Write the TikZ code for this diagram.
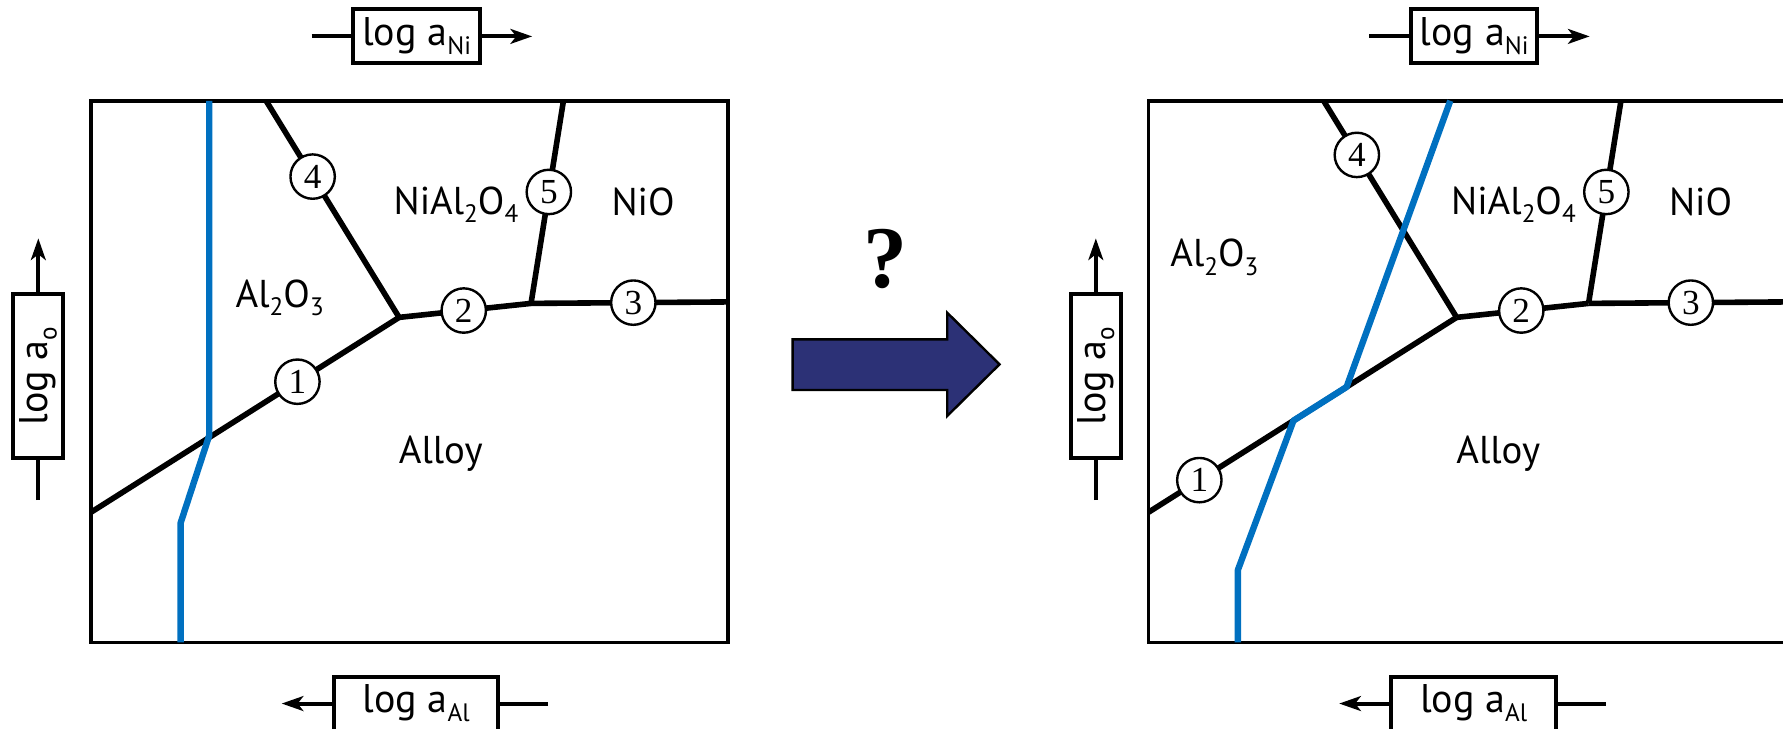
\documentclass[tikz,border=0pt]{standalone}
\usepackage{fontspec}
\setmainfont{PT Sans}
\newfontfamily\numfont{Liberation Serif}
\usetikzlibrary{arrows.meta,positioning}

\definecolor{pathblue}{RGB}{0,112,192}
\definecolor{arrownavy}{RGB}{44,49,118}

% small lowered index, as in the figure
\newcommand{\chemsub}[1]{\raisebox{-0.45ex}{\fontsize{6.3}{7}\selectfont #1}}

\tikzset{
  frame/.style={draw, line width=0.9pt},
  phase/.style={line width=1.4pt, line join=round},
  kinetic/.style={draw=pathblue, line width=1.6pt, line join=round},
  num/.style={circle, draw, fill=white, line width=0.6pt, inner sep=0pt,
    minimum size=0.39cm, font=\numfont\fontsize{8.8}{9}\selectfont},
  axbox/.style={draw, line width=1pt, inner sep=0pt, minimum height=0.475cm,
    font=\fontsize{10}{11}\selectfont},
  region/.style={inner sep=0pt, font=\fontsize{9.7}{11}\selectfont},
  ax/.style={line width=1pt},
  axarrow/.style={ax, -{Stealth[length=1.9mm, width=1.3mm, inset=0.5mm]}}
}

\begin{document}
\begin{tikzpicture}[x=0.01cm, y=-0.01cm]
\useasboundingbox (0,0) rectangle (1568,641);

% both stability diagrams, the right one shifted
\foreach \sx/\p/\cfour/\cone/\ax/\ay in {0/L/0.35/0.67/246/262, 930/R/0.25/0.165/138/226}{
\begin{scope}[shift={(\sx,0)}]
  \draw[frame] (80,88.6) rectangle (640,565);
  % axis labels
  \node[axbox, minimum width=1.113cm] (\p-ni) at (366.4,32) {log a\chemsub{Ni}};
  \coordinate (\p-nis) at (274,32);
  \coordinate (\p-nie) at (468,32);
  \draw[ax] (\p-nis) -- (\p-ni.west);
  \draw[axarrow] (\p-ni.east) -- (\p-nie);
  \node[axbox, minimum width=1.446cm] (\p-al) at (366,618.7) {log a\chemsub{Al}};
  \coordinate (\p-als) at (482,618.7);
  \coordinate (\p-ale) at (247.7,618.7);
  \draw[ax] (\p-als) -- (\p-al.east);
  \draw[axarrow] (\p-al.west) -- (\p-ale);
  \node[axbox, minimum width=0.44cm, minimum height=1.442cm] (\p-o) at (33.7,330.9)
    {\rotatebox{90}{log a\chemsub{o}}};
  \coordinate (\p-os) at (33.7,439.7);
  \coordinate (\p-oe) at (33.7,209.6);
  \draw[ax] (\p-os) -- (\p-o.south);
  \draw[axarrow] (\p-o.north) -- (\p-oe);
  % phase boundaries
  \coordinate (\p-tri) at (351,279.1);  % triple point
  \coordinate (\p-jn) at (467,266.8);
  \coordinate (\p-e1) at (80,450.5);
  \coordinate (\p-e3) at (640,265.5);
  \coordinate (\p-e4) at (234,88.6);
  \coordinate (\p-e5) at (495.5,88.6);
  \draw[phase] (\p-e1) -- node[num, pos=\cone] (\p-1) {1} (\p-tri);
  \draw[phase] (\p-tri) -- node[num, pos=0.49] (\p-2) {2} (\p-jn);
  \draw[phase] (\p-jn) -- node[num, pos=0.52] (\p-3) {3} (\p-e3);
  \draw[phase] (\p-e4) -- node[num, pos=\cfour] (\p-4) {4} (\p-tri);
  \draw[phase] (\p-e5) -- node[num, pos=0.45] (\p-5) {5} (\p-jn);
  % phases
  \node[region] (\p-alumina) at (\ax,\ay) {Al\chemsub{2}O\chemsub{3}};
  \node[region] (\p-spinel) at (401,180) {NiAl\chemsub{2}O\chemsub{4}};
  \node[region] (\p-nio) at (565.5,177.4) {NiO};
  \node[region] (\p-alloy) at (387.6,398.7) {Alloy};
\end{scope}
}

% reaction paths
\draw[kinetic] (184,88.6) -- (184,383) -- (158.8,460) -- (158.8,565);
\draw[kinetic] (1275.4,88.6) -- (1184.2,340.3) -- (1137.5,369.9) -- (1088.6,501.3) -- (1088.6,565);

% big arrow between the panels
\filldraw[fill=arrownavy, draw=black, line width=0.6pt, line join=miter]
  (697,298.4) -- (833,298.4) -- (833,275) -- (879,320.4) -- (833,365.8) -- (833,343) -- (697,343) -- cycle;
\node[font=\numfont\bfseries\fontsize{22}{24}\selectfont] (quest) at (779,228) {?};
\end{tikzpicture}
\end{document}
